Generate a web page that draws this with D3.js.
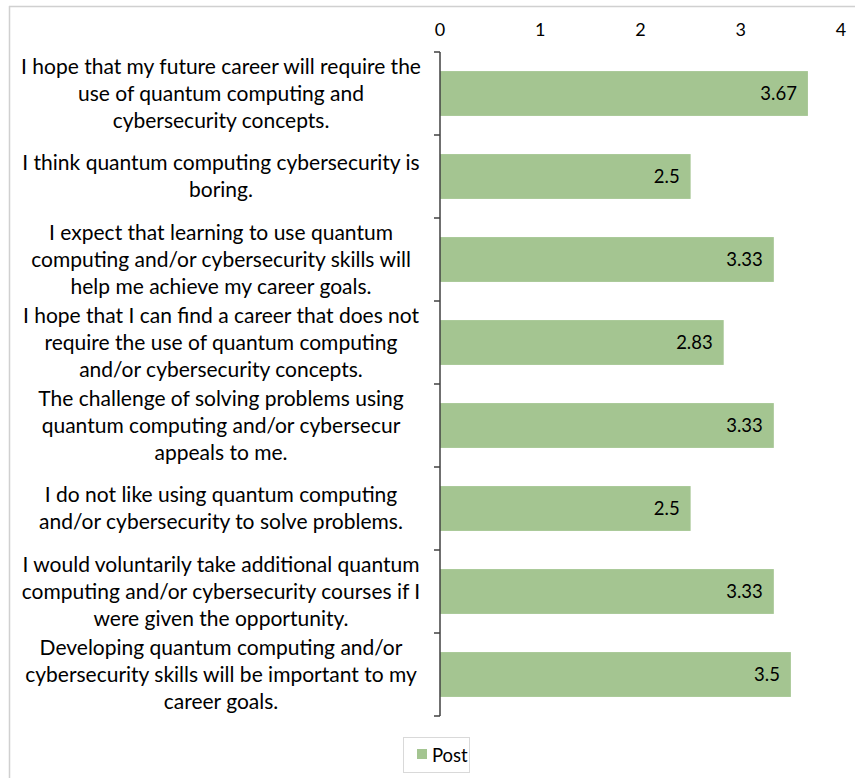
<!DOCTYPE html>
<html>
<head>
<meta charset="utf-8">
<script src="https://cdn.jsdelivr.net/npm/d3@7"></script>
<style>
  body { margin: 0; background: #fff; }
  text { font-family: Lato, "Open Sans", sans-serif; fill: #000; }
</style>
</head>
<body>
<div id="chart"></div>
<script>
// survey items, top to bottom (line breaks as in the original)
var questions = [
  ["I hope that my future career will require the", "use of quantum computing and", "cybersecurity concepts."],
  ["I think quantum computing cybersecurity is", "boring."],
  ["I expect that learning to use quantum", "computing and/or cybersecurity skills will", "help me achieve my career goals."],
  ["I hope that I can find a career that does not", "require the use of quantum computing", "and/or cybersecurity concepts."],
  ["The challenge of solving problems using", "quantum computing and/or cybersecur", "appeals to me."],
  ["I do not like using quantum computing", "and/or cybersecurity to solve problems."],
  ["I would voluntarily take additional quantum", "computing and/or cybersecurity courses if I", "were given the opportunity."],
  ["Developing quantum computing and/or", "cybersecurity skills will be important to my", "career goals."]
];
var postValues = [3.67, 2.5, 3.33, 2.83, 3.33, 2.5, 3.33, 3.5];
var xTicks = [0, 1, 2, 3, 4];
var seriesName = "Post";

var W = 855, H = 778;
var barColor = "#a4c591";

var svg = d3.select("#chart").append("svg")
    .attr("width", W)
    .attr("height", H);

// faint frame of the chart area
svg.append("line").attr("x1", 9.5).attr("x2", 9.5).attr("y1", 6).attr("y2", H)
    .attr("stroke", "#d0d0d0").attr("stroke-width", 1.5);
svg.append("line").attr("x1", 9).attr("x2", W).attr("y1", 6.5).attr("y2", 6.5)
    .attr("stroke", "#d0d0d0").attr("stroke-width", 1.5);

var x = d3.scaleLinear()
    .domain([0, 4])
    .range([440, 841]);

var y = d3.scaleBand()
    .domain(d3.range(questions.length))
    .range([52, 716])
    .paddingInner(0.46)
    .paddingOuter(0.23);

// top axis labels (no line, no ticks)
svg.selectAll(".xt")
    .data(xTicks)
    .enter().append("text")
    .attr("class", "xt")
    .attr("x", function(d) { return x(d); })
    .attr("y", 36)
    .attr("text-anchor", "middle")
    .style("font-size", "18px")
    .text(function(d) { return d; });

// bars
svg.selectAll(".bar")
    .data(postValues)
    .enter().append("rect")
    .attr("class", "bar")
    .attr("x", x(0))
    .attr("y", function(d, i) { return y(i); })
    .attr("width", function(d) { return x(d) - x(0); })
    .attr("height", y.bandwidth())
    .attr("fill", barColor);

// value labels
svg.selectAll(".val")
    .data(postValues)
    .enter().append("text")
    .attr("class", "val")
    .attr("x", function(d) { return x(d) - 11; })
    .attr("y", function(d, i) { return y(i) + y.bandwidth() / 2 + 6.5; })
    .attr("text-anchor", "end")
    .style("font-size", "18.5px")
    .text(function(d) { return d; });

// category axis with ticks between bands
var bounds = d3.range(questions.length + 1).map(function(i) { return 52 + i * (716 - 52) / questions.length; });
svg.append("line")
    .attr("x1", x(0)).attr("x2", x(0))
    .attr("y1", 52).attr("y2", 716)
    .attr("stroke", "#404040").attr("stroke-width", 1.5);
svg.selectAll(".ytick")
    .data(bounds)
    .enter().append("line")
    .attr("class", "ytick")
    .attr("x1", x(0) - 6).attr("x2", x(0))
    .attr("y1", function(d) { return d; }).attr("y2", function(d) { return d; })
    .attr("stroke", "#404040").attr("stroke-width", 1.5);

// category labels
var lineH = 27;
var labels = svg.selectAll(".qlab")
    .data(questions)
    .enter().append("text")
    .attr("class", "qlab")
    .attr("text-anchor", "middle")
    .style("font-size", "21px");
labels.each(function(lines, i) {
    var cy = y(i) + y.bandwidth() / 2;
    var top = cy - (lines.length - 1) * lineH / 2;
    d3.select(this).selectAll("tspan")
        .data(lines)
        .enter().append("tspan")
        .attr("x", 221)
        .attr("y", function(d, j) { return top + j * lineH + 7; })
        .text(function(d) { return d; });
});

// legend
var lg = svg.append("g");
lg.append("rect")
    .attr("x", 403.5).attr("y", 737.5)
    .attr("width", 66).attr("height", 35)
    .attr("fill", "none").attr("stroke", "#d9d9d9");
lg.append("rect")
    .attr("x", 417).attr("y", 749)
    .attr("width", 10).attr("height", 10)
    .attr("fill", barColor);
lg.append("text")
    .attr("x", 432).attr("y", 761.5)
    .style("font-size", "18.5px")
    .text(seriesName);
</script>
</body>
</html>
